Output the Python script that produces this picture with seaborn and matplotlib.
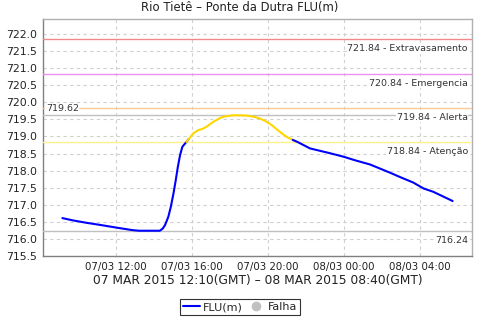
import matplotlib
matplotlib.use("Agg")
import numpy as np
import pandas as pd
import seaborn as sns
import matplotlib.pyplot as plt
from matplotlib.lines import Line2D

# ---- data (hours since 07/03 00:00 local, river level in m) ----
hours = [9.17, 9.75, 10.46, 11.16, 12.03, 12.83, 13.2, 14.3, 14.45, 14.58,
         14.75, 14.88, 15.02, 15.14, 15.25, 15.37, 15.49, 15.70, 15.81, 16.07,
         16.33, 16.55, 16.77, 17.12, 17.5, 17.83, 18.2, 18.53, 18.9, 19.23,
         19.6, 19.93, 20.2, 20.46, 20.75, 20.98, 21.3, 21.55, 22.21, 23.26,
         23.96, 24.6, 25.37, 26.42, 27.0, 27.65, 28.18, 28.7, 29.23, 29.72]
level = [716.61, 716.54, 716.47, 716.41, 716.33, 716.26, 716.24, 716.24, 716.30, 716.41,
         716.65, 716.94, 717.33, 717.72, 718.11, 718.46, 718.70, 718.84, 718.92, 719.09,
         719.19, 719.22, 719.29, 719.43, 719.55, 719.60, 719.62, 719.62, 719.61, 719.58,
         719.52, 719.43, 719.33, 719.21, 719.08, 718.99, 718.90, 718.84, 718.65, 718.51,
         718.41, 718.30, 718.18, 717.94, 717.80, 717.65, 717.48, 717.38, 717.24, 717.11]

thresh_values = [721.84, 720.84, 719.84, 718.84]
thresh_names = ["Extravasamento", "Emergencia", "Alerta", "Atenção"]
thresh_colors = ["#F08A8A", "#EE90EE", "#FFC896", "#FFF08A"]
max_level = 719.62
min_level = 716.24

xtick_pos = [12, 16, 20, 24, 28]
xtick_labels = ["07/03 12:00", "07/03 16:00", "07/03 20:00", "08/03 00:00", "08/03 04:00"]
ytick_vals = list(np.arange(715.5, 722.01, 0.5))

title = "Rio Tietê – Ponte da Dutra FLU(m)"
xlabel = "07 MAR 2015 12:10(GMT) – 08 MAR 2015 08:40(GMT)"

# ---- build segments (blue below attention, yellow above) ----
df = pd.DataFrame({"h": hours, "v": level})
above = df["v"] > 718.84 + 1e-9
seg = []
sid = 0
prev = None
for a in above:
    if prev is not None and a != prev:
        sid += 1
    seg.append(sid)
    prev = a
df["seg"] = seg
df["above"] = above

sns.set_style("white")
plt.rcParams["font.family"] = ["DejaVu Sans"]

fig = plt.figure(figsize=(4.8, 3.2), dpi=100)
ax = fig.add_axes([43/480, 1-256/320, (472-43)/480, (256-19)/320])

for s in sorted(df["seg"].unique()):
    sub = df[df["seg"] == s]
    idx = list(sub.index)
    if idx[0] > 0:
        idx = [idx[0]-1] + idx
    if idx[-1] < len(df)-1:
        idx = idx + [idx[-1]+1]
    part = df.loc[idx]
    color = "#FFD700" if sub["above"].iloc[0] else "#0000FF"
    sns.lineplot(data=part, x="h", y="v", color=color, lw=1.5, ax=ax,
                 sort=False, estimator=None, zorder=5)

label_kw = dict(fontsize=6.8, color="#333333", zorder=4,
                bbox=dict(facecolor="white", edgecolor="none", pad=0.3))

for val, name, col in zip(thresh_values, thresh_names, thresh_colors):
    ax.axhline(val, color=col, lw=1, zorder=3)
    ax.annotate(f"{val:.2f} - {name}", xy=(1, val), xycoords=ax.get_yaxis_transform(),
                xytext=(-3, -3.5), textcoords="offset points", ha="right", va="top",
                **label_kw)
ax.axhline(max_level, color="#C0C0C0", lw=1, zorder=3)
ax.annotate(f"{max_level:.2f}", xy=(0, max_level), xycoords=ax.get_yaxis_transform(),
            xytext=(2, 1.5), textcoords="offset points", ha="left", va="bottom",
            **label_kw)
ax.axhline(min_level, color="#C0C0C0", lw=1, zorder=3)
ax.annotate(f"{min_level:.2f}", xy=(1, min_level), xycoords=ax.get_yaxis_transform(),
            xytext=(-3, -3.5), textcoords="offset points", ha="right", va="top",
            **label_kw)

ax.set_xlim(8.15, 30.74)
ax.set_ylim(715.5, 722.44)
ax.set_xticks(xtick_pos)
ax.set_xticklabels(xtick_labels)
ax.set_yticks(ytick_vals)
ax.set_yticklabels([f"{v:.1f}" for v in ytick_vals])
ax.tick_params(axis="both", labelsize=7.8, length=2, width=0.8, color="#808080",
               pad=2, labelcolor="#222222")
ax.tick_params(axis="x", labelsize=7.4)
ax.grid(True, color="#D0D0D0", ls=(0, (3, 3)), lw=0.8)
ax.set_axisbelow(True)
for side in ["left", "bottom"]:
    ax.spines[side].set_color("#808080")
for side in ["top", "right"]:
    ax.spines[side].set_color("#B0B0B0")
for sp in ax.spines.values():
    sp.set_linewidth(1)

ax.set_xlabel(xlabel, fontsize=8.8, color="#222222", labelpad=2)
ax.set_ylabel("")
fig.text(0.5, 1-8/320, title, fontsize=8.4, color="#222222", ha="center", va="center")

handles = [Line2D([0], [0], color="#0000FF", lw=1.5),
           Line2D([0], [0], marker="o", color="none", markerfacecolor="#C0C0C0",
                  markeredgecolor="#C0C0C0", markersize=6)]
leg = fig.legend(handles, ["FLU(m)", "Falha"], loc="center", bbox_to_anchor=(0.5, 1-307/320),
                 ncol=2, fontsize=8, frameon=True, fancybox=False, handlelength=1.5,
                 handletextpad=0.3, columnspacing=0.4, borderpad=0.3, borderaxespad=0)
leg.get_frame().set_edgecolor("black")
leg.get_frame().set_linewidth(0.8)

fig.savefig("out.png", dpi=100)
